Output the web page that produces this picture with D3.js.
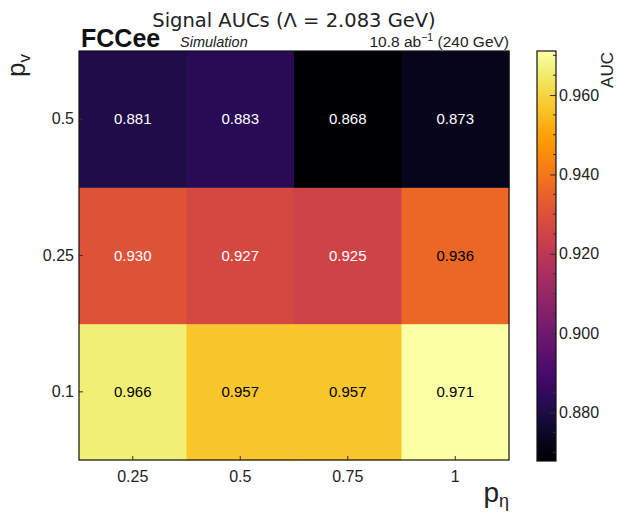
<!DOCTYPE html>
<html><head><meta charset="utf-8">
<script src="https://cdn.jsdelivr.net/npm/d3@7"></script>
<style>body{margin:0;background:#fff;} text{font-family:"Liberation Sans",Arial,sans-serif;}</style>
</head><body><svg id="c" width="617" height="519"></svg>
<script>
const xCats = ["0.25","0.5","0.75","1"];
const yCats = ["0.1","0.25","0.5"];
const rowP01 = [0.966,0.957,0.957,0.971];
const rowP025 = [0.930,0.927,0.925,0.936];
const rowP05 = [0.881,0.883,0.868,0.873];
const cbTicks = [0.880,0.900,0.920,0.940,0.960];
const aucMin = 0.8678, aucMax = 0.9711;

const values = [rowP01,rowP025,rowP05];
const cells = [];
yCats.forEach((yc,i)=>xCats.forEach((xc,j)=>cells.push({x:xc,y:yc,v:values[i][j]})));

const svg = d3.select("#c");
const L=79,R=509,T=51,B=460;
const x = d3.scaleBand().domain(xCats).range([L,R]);
const y = d3.scaleBand().domain(yCats).range([B,T]);
const color = d3.scaleSequential(d3.interpolateInferno).domain([aucMin,aucMax]);

svg.append("g").selectAll("rect").data(cells).join("rect")
  .attr("x",d=>x(d.x)).attr("y",d=>y(d.y))
  .attr("width",x.bandwidth()+0.5).attr("height",y.bandwidth()+0.5)
  .attr("fill",d=>color(d.v));

svg.append("g").selectAll("text").data(cells).join("text")
  .attr("x",d=>x(d.x)+x.bandwidth()/2).attr("y",d=>y(d.y)+y.bandwidth()/2)
  .attr("dy","0.35em").attr("text-anchor","middle").attr("font-size",15)
  .attr("fill",d=>((d.v-aucMin)/(aucMax-aucMin))<0.63?"#fff":"#000")
  .text(d=>d.v.toFixed(3));

// axes
const xAxis = svg.append("g").attr("transform",`translate(0,${B})`)
  .call(d3.axisBottom(x).tickSizeInner(-4).tickSizeOuter(0).tickPadding(11));
const yAxis = svg.append("g").attr("transform",`translate(${L},0)`)
  .call(d3.axisLeft(y).tickSizeInner(-4).tickSizeOuter(0).tickPadding(5));
[xAxis,yAxis].forEach(a=>{a.select(".domain").remove();
  a.selectAll("text").attr("font-size",16).attr("fill","#222").style("font-family","'Liberation Sans',Arial,sans-serif");
  a.selectAll("line").attr("stroke","#333");});
svg.append("rect").attr("x",L).attr("y",T).attr("width",R-L).attr("height",B-T)
  .attr("fill","none").attr("stroke","#111").attr("stroke-width",1.2);

// colorbar
const CL=537,CR=556;
const cy = d3.scaleLinear().domain([aucMin,aucMax]).range([B+1,T]);
const grad = svg.append("defs").append("linearGradient").attr("id","g")
  .attr("x1",0).attr("y1",1).attr("x2",0).attr("y2",0);
d3.range(0,1.0001,0.02).forEach(t=>grad.append("stop").attr("offset",t)
  .attr("stop-color",d3.interpolateInferno(t)));
svg.append("rect").attr("x",CL).attr("y",T).attr("width",CR-CL).attr("height",B+1-T).attr("fill","url(#g)");
const minor = d3.range(0.870,0.9711,0.005).filter(v=>Math.abs(Math.round(v*50)-v*50)>0.01);
svg.append("g").selectAll("line").data(minor).join("line")
  .attr("x1",CR-3).attr("x2",CR).attr("y1",d=>cy(d)).attr("y2",d=>cy(d)).attr("stroke","#333");
const cAxis = svg.append("g").attr("transform",`translate(${CR},0)`)
  .call(d3.axisRight(cy).tickValues(cbTicks).tickFormat(d3.format(".3f")).tickSizeInner(-6).tickSizeOuter(0).tickPadding(3));
cAxis.select(".domain").remove();
cAxis.selectAll("text").attr("font-size",16).attr("fill","#222").style("font-family","'Liberation Sans',Arial,sans-serif");
cAxis.selectAll("line").attr("stroke","#333");
svg.append("rect").attr("x",CL).attr("y",T).attr("width",CR-CL).attr("height",B+1-T)
  .attr("fill","none").attr("stroke","#111").attr("stroke-width",1.2);
svg.append("text").attr("transform","translate(613,52) rotate(-90)").attr("text-anchor","end")
  .attr("font-size",17).attr("fill","#222").text("AUC");

// titles
svg.append("text").attr("x",(L+R)/2).attr("y",27).attr("text-anchor","middle").attr("font-size",19.5)
  .attr("fill","#222").style("font-family","'DejaVu Sans',sans-serif").text("Signal AUCs (Λ = 2.083 GeV)");
svg.append("text").attr("x",81).attr("y",47).attr("font-size",25).attr("font-weight","bold").attr("fill","#111").text("FCCee");
svg.append("text").attr("x",180).attr("y",47).attr("font-size",14.5).attr("font-style","italic").attr("fill","#222").text("Simulation");
const lumi = svg.append("text").attr("x",R).attr("y",47).attr("text-anchor","end").attr("font-size",15.5).attr("fill","#222");
lumi.append("tspan").text("10.8 ab");
lumi.append("tspan").attr("dy",-6).attr("font-size",10.5).text("−1");
lumi.append("tspan").attr("dy",6).text(" (240 GeV)");

// axis labels
const xl = svg.append("text").attr("x",R).attr("y",502).attr("text-anchor","end").attr("font-size",28).attr("fill","#222");
xl.append("tspan").text("p");
xl.append("tspan").attr("dy",5).attr("font-size",18).text("η");
const yl = svg.append("text").attr("transform","translate(25,54) rotate(-90)").attr("text-anchor","end").attr("font-size",26).attr("fill","#222");
yl.append("tspan").text("p");
yl.append("tspan").attr("dy",5).attr("font-size",17).text("v");
</script></body></html>
